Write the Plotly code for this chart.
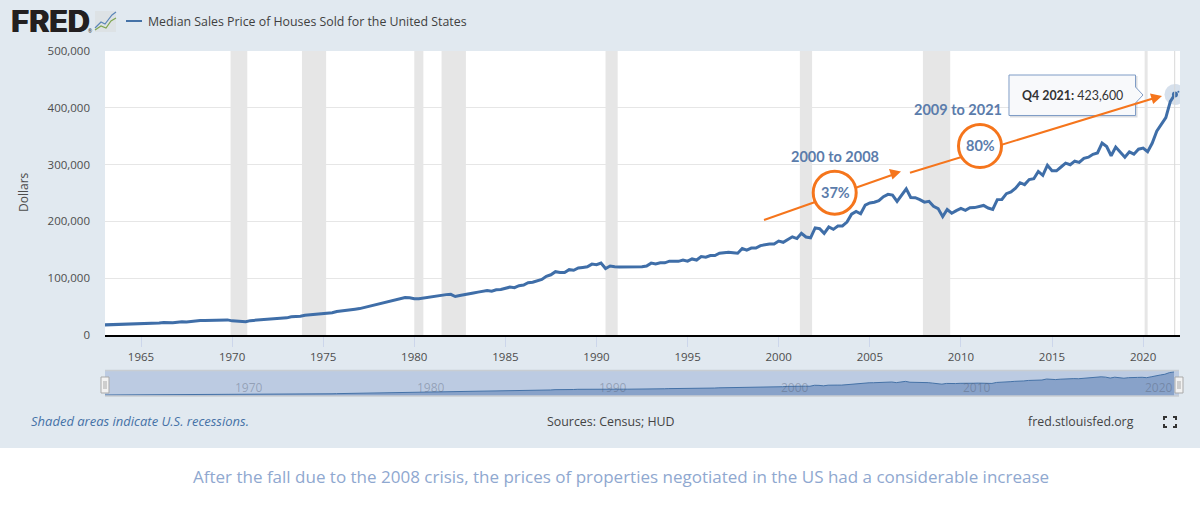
import plotly.graph_objects as go

years = list(range(1963, 2022))
# quarterly median price, one row per year
prices = [
    17800, 18000, 17900, 18500,
    18500, 18900, 18900, 19400,
    20200, 19800, 20200, 20300,
    21000, 22100, 21500, 21400,
    22300, 23300, 22900, 23900,
    24900, 25400, 25400, 25900,
    25900, 26400, 26500, 26600,
    24900, 24400, 23900, 23500,
    25300, 25900, 25700, 26300,
    26800, 27300, 27800, 28900,
    30200, 32000, 32500, 33200,
    34900, 35500, 36000, 36900,
    38100, 38900, 39300, 41500,
    42800, 44200, 45000, 45500,
    46500, 48400, 49100, 51300,
    53700, 55700, 56900, 59200,
    61500, 63900, 65800, 65500,
    63700, 64000, 65300, 66400,
    66800, 69400, 70000, 71100,
    71500, 67800, 69500, 70600,
    72400, 73900, 75500, 77300,
    78200, 77000, 79500, 80000,
    82800, 84300, 83200, 86800,
    88000, 92100, 93000, 95000,
    97900, 103400, 106000, 111500,
    110000, 110000, 115000, 113900,
    118000, 118900, 120000, 124800,
    123900, 126800, 117000, 121500,
    120000, 119900, 120000, 120000,
    119500, 120000, 120000, 121500,
    126500, 125000, 127000, 127000,
    130000, 130000, 129700, 132000,
    130000, 133900, 132000, 138000,
    137000, 139900, 140000, 144000,
    145000, 145800, 145000, 144000,
    152200, 149500, 153000, 153000,
    157400, 158700, 160000, 160000,
    165300, 163200, 168800, 172900,
    169800, 179000, 172500, 171100,
    188700, 187200, 178900, 190100,
    186000, 191800, 191900, 198800,
    212700, 217600, 213500, 228800,
    232500, 233700, 236400, 243600,
    247700, 246300, 235300, 245400,
    257400, 242200, 241800, 238400,
    233900, 235300, 226500, 222500,
    208400, 220900, 214300, 219000,
    222900, 219500, 224100, 224300,
    226900, 228100, 223500, 221100,
    238400, 238700, 248800, 251700,
    258400, 268100, 264800, 273600,
    275200, 288000, 281000, 298900,
    289200, 289100, 295800, 302500,
    299800, 306000, 303800, 310900,
    313100, 318200, 320500, 337900,
    331800, 315600, 330900, 322800,
    313000, 322500, 318400, 327100,
    329000, 322600, 337500, 358700,
    369800, 382600, 411200, 423600,
]
dates = [f"{y}-{m:02d}-01" for y in years for m in (1, 4, 7, 10)]

recession_starts = ["1969-12-01", "1973-11-01", "1980-01-01", "1981-07-01",
                    "1990-07-01", "2001-03-01", "2007-12-01", "2020-02-01"]
recession_ends = ["1970-11-01", "1975-03-01", "1980-07-01", "1982-11-01",
                  "1991-03-01", "2001-11-01", "2009-06-01", "2020-04-01"]

x_ticks = ["1965", "1970", "1975", "1980", "1985", "1990", "1995",
           "2000", "2005", "2010", "2015", "2020"]
y_ticks = [0, 100000, 200000, 300000, 400000, 500000]
nav_ticks = ["1970", "1980", "1990", "2000", "2010", "2020"]

W, H = 1200, 508
X = lambda p: p / W
Y = lambda p: 1 - p / H

BG = "#e1e9f0"
LINE = "#3f6ea8"
ORANGE = "#f5751c"
LABEL = "#5b7cab"
TEXT = "#4d4d4d"
XRANGE = ["1963-01-10", "2022-01-10"]

fig = go.Figure()
fig.add_trace(go.Scatter(x=dates, y=prices, mode="lines", xaxis="x", yaxis="y",
                         line=dict(color=LINE, width=3, shape="linear"),
                         hoverinfo="skip", showlegend=False))
fig.add_trace(go.Scatter(x=dates, y=prices, mode="lines", xaxis="x2", yaxis="y2",
                         fill="tozeroy", fillcolor="#88a2c9",
                         line=dict(color="#4572a7", width=1),
                         hoverinfo="skip", showlegend=False))
fig.add_trace(go.Scatter(x=dates[-1:], y=prices[-1:], mode="markers", xaxis="x", yaxis="y",
                         marker=dict(size=21, color="rgba(69,114,167,0.22)"),
                         hoverinfo="skip", showlegend=False))
fig.add_trace(go.Scatter(x=dates[-1:], y=prices[-1:], mode="markers", xaxis="x", yaxis="y",
                         marker=dict(size=6, color=LINE),
                         hoverinfo="skip", showlegend=False))

shapes = []


def pline(x0, y0, x1, y1, color, width=1):
    shapes.append(dict(type="line", xref="paper", yref="paper", x0=X(x0), y0=Y(y0),
                       x1=X(x1), y1=Y(y1), line=dict(color=color, width=width), layer="above"))


def prect(x0, y0, x1, y1, fill, color=None, width=0, layer="above"):
    shapes.append(dict(type="rect", xref="paper", yref="paper", x0=X(x0), y0=Y(y0),
                       x1=X(x1), y1=Y(y1), fillcolor=fill, layer=layer,
                       line=dict(color=color or fill, width=width)))


def ppath(points, fill=None, color=None, width=0, closed=True):
    d = "M " + " L ".join(f"{X(a):.5f},{Y(b):.5f}" for a, b in points) + (" Z" if closed else "")
    shapes.append(dict(type="path", xref="paper", yref="paper", path=d, layer="above",
                       fillcolor=fill if fill else "rgba(0,0,0,0)",
                       line=dict(color=color or "rgba(0,0,0,0)", width=width)))


def pcircle(cx, cy, r, fill, color, width):
    shapes.append(dict(type="circle", xref="paper", yref="paper", x0=X(cx - r), x1=X(cx + r),
                       y0=Y(cy + r), y1=Y(cy - r), fillcolor=fill, layer="above",
                       line=dict(color=color, width=width)))


# white strip under the FRED panel
prect(0, 448, 1200, 508, "#ffffff", layer="below")

# recession bands
for s, e in zip(recession_starts, recession_ends):
    shapes.append(dict(type="rect", xref="x", yref="y domain", x0=s, x1=e, y0=0, y1=1,
                       fillcolor="#e6e6e6", line=dict(width=0), layer="below"))

# navigator background
shapes.append(dict(type="rect", xref="x2 domain", yref="y2 domain", x0=0, x1=1, y0=0, y1=1,
                   fillcolor="#bccbe2", line=dict(width=0), layer="below"))
pline(105, 370.5, 1179, 370.5, "#c8cdd2", 1.5)
pline(105, 396, 1179, 396, "#c8cdd2", 1.5)

# navigator handles
for cx in (105, 1179):
    prect(cx - 4, 377, cx + 4, 393, "#f2f2f2", "#a9a9a9", 1)
    pline(cx - 1, 381, cx - 1, 389, "#a9a9a9", 1)
    pline(cx + 1, 381, cx + 1, 389, "#a9a9a9", 1)

# crosshair at the last point
pline(1174.7, 51, 1174.7, 335, "#d8d8d8", 1)
pcircle(1178.4, 91.8, 1, LINE, LINE, 0)

# tooltip
prect(1010, 76, 1137.5, 117.5, "rgba(90,100,120,0.22)")
ppath([(1009, 75), (1135.5, 75), (1135.5, 87), (1143, 95), (1135.5, 103), (1135.5, 115.5), (1009, 115.5)],
      fill="#f8f9fb", color="#7f9cc6", width=1)

# growth arrows
pline(764, 220, 892, 175, ORANGE, 2)
ppath([(901, 171.5), (889, 169), (892.5, 179.5)], fill=ORANGE)
pline(910, 172.7, 1153, 98.5, ORANGE, 2)
ppath([(1162, 96), (1150, 93.5), (1153.2, 104)], fill=ORANGE)
pcircle(834.7, 192.7, 21.5, "#ffffff", ORANGE, 3)
pcircle(980, 146, 21.5, "#ffffff", ORANGE, 3)

# legend swatch
pline(126, 21, 142, 21, "#4572a7", 2)

# logo mark
prect(95, 11, 116, 32, "#dde2e5")
ppath([(95, 28), (101, 22), (105, 24), (112, 15), (116, 12)], color="#5b86b8", width=1.2, closed=False)
ppath([(95, 30), (101, 26), (106, 28), (111, 21), (116, 18)], color="#7fa650", width=1.2, closed=False)

# full screen icon
for cx, cy, dx, dy in [(1164, 417, 1, 1), (1176, 417, -1, 1), (1164, 427, 1, -1), (1176, 427, -1, -1)]:
    ppath([(cx, cy + 3 * dy), (cx, cy), (cx + 3 * dx, cy)], color="#333333", width=2, closed=False)

annotations = []


def text(x, y, s, size, color, anchor="center", family="Open Sans", **kw):
    annotations.append(dict(xref="paper", yref="paper", x=X(x), y=Y(y), text=s, showarrow=False,
                            xanchor=anchor, yanchor="middle",
                            font=dict(family=family, size=size, color=color, **kw)))


text(9, 20, "<b>FRED</b>", 30.5, "#231f20", "left", "Inter", weight=900,
     shadow="1px 0 0 #231f20, -0.5px 0 0 #231f20")
text(90, 31, "®", 5, "#231f20")
text(146, 21, "Median Sales Price of Houses Sold for the United States", 12.35, "#3f3f3f", "left")
annotations.append(dict(xref="paper", yref="paper", x=X(23), y=Y(192), text="Dollars", showarrow=False,
                        xanchor="center", yanchor="middle",
                        textangle=-90, font=dict(family="Open Sans", size=12, color=TEXT)))
text(835, 156, "2000 to 2008", 14.5, LABEL, family="Lato", weight=700)
text(958, 109, "2009 to 2021", 14.5, LABEL, family="Lato", weight=700)
text(835, 192.5, "37%", 14.5, LABEL, family="Lato", weight=700)
text(980, 146, "80%", 14.5, LABEL, family="Lato", weight=700)
text(1020, 95.5, "<b>Q4 2021:</b> 423,600", 12.4, "#333333", "left", "Lato")
text(28.5, 421, "<i>Shaded areas indicate U.S. recessions.</i>", 13, "#4572a7", "left")
text(611, 421, "Sources: Census; HUD", 12.4, "#444444")
text(1136, 421, "fred.stlouisfed.org", 12.35, "#444444", "right")
text(620.5, 476, "After the fall due to the 2008 crisis, the prices of properties negotiated in the US had a considerable increase",
     17, "#8fa8d0")

for t in nav_ticks:
    annotations.append(dict(xref="x2", yref="paper", x=f"{t}-01-01", y=Y(387), text=t, showarrow=False,
                            xshift=17, yanchor="middle",
                            font=dict(family="Open Sans", size=12, color="rgba(80,90,110,0.38)")))

fig.update_layout(
    width=W, height=H, margin=dict(l=0, r=0, t=0, b=0, pad=0, autoexpand=False), autosize=False,
    paper_bgcolor=BG, plot_bgcolor="#ffffff", showlegend=False,
    shapes=shapes, annotations=annotations, hovermode=False,
    xaxis=dict(domain=[X(105), X(1180)], anchor="y", type="date", range=XRANGE,
               tickmode="array", tickvals=[f"{t}-01-01" for t in x_ticks], ticktext=x_ticks,
               ticks="outside", ticklen=10, tickwidth=1, tickcolor="#ccd6eb",
               showgrid=False, showline=True, linecolor="#000000", linewidth=2, zeroline=False,
               tickfont=dict(family="Open Sans", size=11.5, color=TEXT)),
    yaxis=dict(domain=[Y(335), Y(51)], anchor="x", range=[0, 500000],
               tickmode="array", tickvals=y_ticks, ticktext=[f"{v:,}" for v in y_ticks],
               showgrid=True, gridcolor="#e6e6e6", gridwidth=1, zeroline=False, showline=False,
               ticks="", ticklabelstandoff=14,
               tickfont=dict(family="Open Sans", size=11.5, color=TEXT)),
    xaxis2=dict(domain=[X(105), X(1179)], anchor="y2", type="date", range=XRANGE,
                showticklabels=False, ticks="", showgrid=False, zeroline=False, showline=False),
    yaxis2=dict(domain=[Y(396), Y(371)], anchor="x2", range=[0, 440000],
                showticklabels=False, ticks="", showgrid=False, zeroline=False, showline=False),
)

fig.write_html("out.html", post_script="document.body.style.margin='0';document.body.style.overflow='hidden';",
               config=dict(displayModeBar=False))
